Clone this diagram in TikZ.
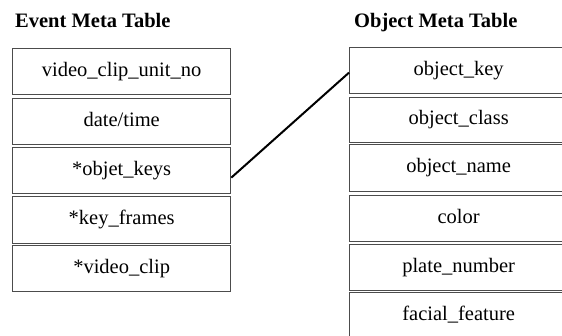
\documentclass[tikz,border=0pt]{standalone}
\usepackage{fontspec}
\setmainfont{Liberation Serif}
\begin{document}
\begin{tikzpicture}[x=1pt,y=-1pt,
  cell/.style={draw=black!70, line width=1.3pt, minimum width=218pt, minimum height=46pt,
    inner sep=0pt, font=\fontsize{20.5}{24}\selectfont, text height=14pt, text depth=4.5pt, anchor=north west},
  title/.style={font=\fontsize{20.5}{24}\selectfont\bfseries, inner sep=0pt, anchor=base west},
  link/.style={line width=2pt, black}]
\useasboundingbox (0,0) rectangle (562,336);
\clip (0,0) rectangle (562,336);
\node[title] (et) at (15,28) {Event Meta Table};
\node[title] (ot) at (354,28) {Object Meta Table};
\node[cell] (l1) at (12,48) {video\_clip\_unit\_no};
\node[cell, minimum height=46pt] (l2) at (12,98) {date/time};
\node[cell] (l3) at (12,147) {*objet\_keys};
\node[cell, minimum height=47pt] (l4) at (12,196) {*key\_frames};
\node[cell] (l5) at (12,245) {*video\_clip};
\node[cell] (r1) at (349,47) {object\_key};
\node[cell, minimum height=45pt] (r2) at (349,97) {object\_class};
\node[cell, minimum height=47pt] (r3) at (349,144) {object\_name};
\node[cell] (r4) at (349,195) {color};
\node[cell] (r5) at (349,244) {plate\_number};
\node[cell] (r6) at (349,292) {facial\_feature};
\draw[link] ([yshift=-7pt]l3.east) -- ([yshift=-2pt]r1.west);
\end{tikzpicture}
\end{document}
